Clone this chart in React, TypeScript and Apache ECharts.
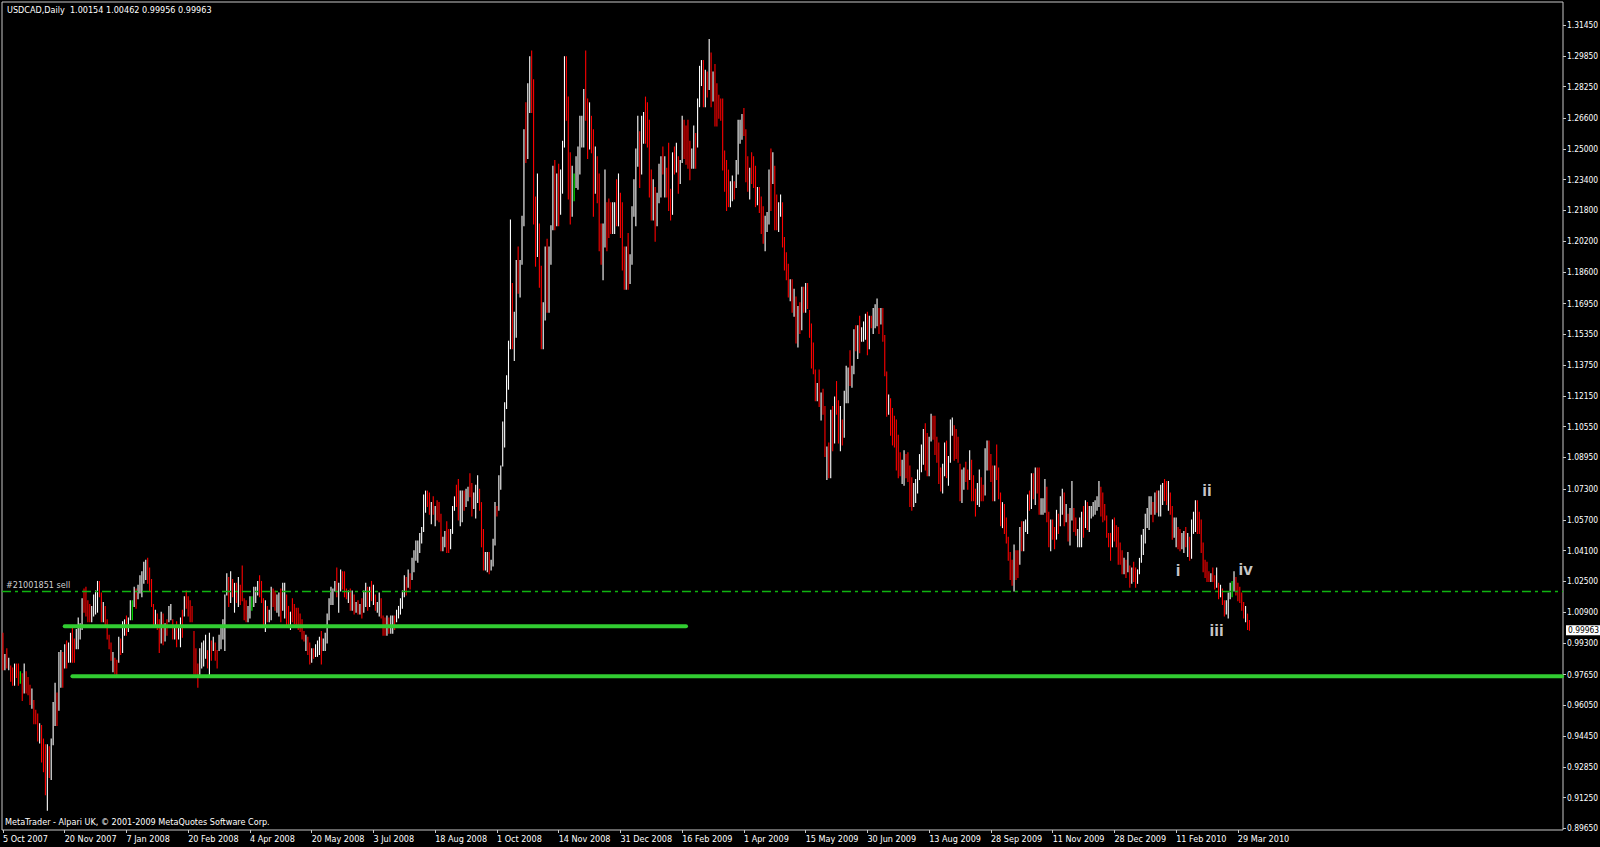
import React, { useEffect, useRef } from 'react';
import * as echarts from 'echarts';

// ---------- data ----------
const SYMBOL = 'USDCAD';
const PERIOD = 'Daily';
const COPYRIGHT = 'MetaTrader - Alpari UK, \u00a9 2001-2009 MetaQuotes Software Corp.';

// time-axis labels, one every 32 daily bars starting at bar 0
const DATE_LABELS = [
  '5 Oct 2007', '20 Nov 2007', '7 Jan 2008', '20 Feb 2008', '4 Apr 2008', '20 May 2008', '3 Jul 2008',
  '18 Aug 2008', '1 Oct 2008', '14 Nov 2008', '31 Dec 2008', '16 Feb 2009', '1 Apr 2009', '15 May 2009',
  '30 Jun 2009', '13 Aug 2009', '28 Sep 2009', '11 Nov 2009', '28 Dec 2009', '11 Feb 2010', '29 Mar 2010',
];
const BARS_PER_LABEL = 32;
const SLOT_COUNT = 809; // visible bar slots on the time axis (incl. empty right margin)

// price-axis tick labels
const Y_TICKS = [
  1.3145, 1.2985, 1.2825, 1.266, 1.25, 1.234, 1.218, 1.202, 1.186, 1.1695, 1.1535, 1.1375, 1.1215, 1.1055,
  1.0895, 1.073, 1.057, 1.041, 1.025, 1.009, 0.993, 0.9765, 0.9605, 0.9445, 0.9285, 0.9125, 0.8965,
];
const PRICE_MIN = 0.89567;
const PRICE_MAX = 1.32647;

// daily bars: [low, high, close] in price x 1000 ; open = previous close
const FIRST_OPEN = 996;
const BARS_OCT07 = [
  [979,998,983],[979,987,986],[980,990,981],[979,985,984],[973,981,975],[971,980,972],[971,982,980],[975,982,977],
  [971,982,974],[972,978,974],[963,977,966],[967,982,979],[967,978,969],[966,975,967],[961,971,963],[959,969,967],
  [951,963,953],[951,958,952],[942,956,944],[941,951,949],[931,950,933],[926,943,928],[914,940,916],[906,940,932],
  [923,939,925],[922,943,940],[940,962,958],[950,972,966],[950,967,954],[958,988,984],[970,989,987],[970,988,975],
  [980,992,990],[980,994,985],[983,993,991],[983,998,996],[983,1002,986],[983,995,985],[990,1000,998],[990,1006,1001],
  [995,1003,1002],[1000,1016,1014],[1009,1021,1011],[1007,1022,1009],[1004,1015,1006],[1004,1013,1005],[1004,1012,1010],[1007,1018,1016],
  [1008,1020,1018],[1009,1025,1022],[1017,1025,1019],[1004,1019,1006],[1004,1014,1012],[1002,1012,1003],[995,1005,996],[990,997,991],
  [984,993,985],[978,988,987],[977,985,978],[976,984,977],[983,996,994],[987,995,989],[988,1004,1001],[997,1005,1003],
];
const BARS_JAN08 = [
  [997,1007,999],[999,1006,1005],[1005,1015,1013],[1005,1015,1013],[1012,1022,1020],[1011,1021,1014],[1016,1023,1021],[1019,1028,1026],
  [1017,1030,1028],[1024,1035,1033],[1026,1036,1035],[1024,1037,1027],[1020,1032,1022],[1012,1026,1014],[1002,1013,1004],[1001,1010,1008],
  [1000,1008,1001],[988,1005,990],[993,1009,1006],[992,1008,994],[994,1003,1000],[997,1005,998],[1004,1012,1010],[1005,1013,1011],
  [995,1005,997],[995,1002,1000],[991,1004,993],[995,1001,999],[991,1006,1004],[996,1010,1000],[1007,1017,1015],[1011,1020,1013],
  [1007,1017,1009],[1004,1015,1006],[1004,1012,1005],[977,999,980],[977,990,978],[970,982,972],[976,990,988],[980,993,990],
  [981,994,992],[985,997,995],[980,989,982],[975,998,994],[984,994,986],[989,996,993],[984,993,987],[980,989,982],
  [989,997,995],[990,1001,999],[995,1005,1003],[989,1018,1016],[1018,1029,1027],[1012,1027,1015],[1014,1030,1026],[1017,1026,1019],
  [1009,1024,1021],[1014,1024,1016],[1012,1027,1024],[1013,1023,1020],[1015,1033,1017],[1005,1016,1007],[1004,1015,1005],[1004,1012,1010],
];
const BARS_APR08 = [
  [1006,1017,1015],[1010,1017,1015],[1012,1022,1020],[1014,1022,1021],[1018,1025,1024],[1017,1028,1019],[1014,1025,1016],[1002,1016,1004],
  [999,1015,1012],[1004,1012,1006],[1004,1010,1009],[1005,1022,1020],[1012,1021,1014],[1010,1020,1012],[1009,1018,1016],[1007,1019,1018],
  [1004,1021,1007],[1010,1024,1021],[1006,1024,1023],[1001,1018,1004],[1001,1012,1003],[1000,1009,1008],[1004,1016,1005],[1003,1013,1004],
  [1001,1011,1003],[1000,1011,1002],[999,1008,1000],[995,1005,997],[994,999,995],[989,997,996],[987,996,989],[982,993,984],
  [983,990,987],[985,990,986],[986,992,990],[986,994,993],[987,996,995],[982,999,984],[989,995,993],[989,998,996],
  [993,1008,1006],[1005,1016,1014],[1013,1022,1020],[1013,1021,1021],[1020,1025,1024],[1017,1032,1019],[1009,1024,1022],[1020,1031,1029],
  [1021,1030,1023],[1017,1030,1020],[1016,1021,1017],[1014,1020,1019],[1010,1021,1012],[1010,1020,1018],[1008,1018,1010],[1009,1014,1013],
  [1008,1015,1009],[1008,1013,1012],[1006,1016,1008],[1009,1020,1018],[1012,1024,1022],[1010,1022,1013],[1012,1022,1020],[1015,1025,1017],
];
const BARS_JUL08 = [
  [1013,1023,1021],[1010,1018,1012],[1009,1014,1013],[1007,1019,1017],[1006,1016,1008],[997,1007,999],[997,1006,998],[997,1007,1005],
  [998,1006,999],[998,1007,1004],[998,1007,1006],[1000,1007,1002],[1004,1010,1009],[1006,1012,1011],[1008,1016,1015],[1011,1020,1018],
  [1017,1028,1026],[1018,1027,1021],[1022,1031,1029],[1021,1029,1024],[1026,1037,1034],[1030,1041,1039],[1036,1046,1044],[1035,1046,1045],
  [1040,1050,1048],[1045,1053,1051],[1051,1070,1068],[1061,1072,1070],[1064,1072,1066],[1060,1071,1062],[1055,1066,1064],[1060,1069,1061],
  [1054,1064,1063],[1057,1067,1059],[1056,1066,1057],[1041,1060,1043],[1041,1048,1046],[1043,1051,1049],[1040,1056,1042],[1040,1052,1041],
  [1042,1052,1050],[1050,1064,1062],[1062,1069,1067],[1064,1075,1065],[1057,1078,1060],[1054,1072,1070],[1056,1072,1071],[1062,1072,1065],
  [1064,1073,1072],[1067,1074,1073],[1069,1081,1071],[1059,1076,1062],[1063,1071,1069],[1058,1075,1073],[1066,1080,1078],[1062,1073,1064],
  [1043,1066,1046],[1031,1052,1034],[1031,1040,1038],[1030,1040,1039],[1029,1040,1031],[1031,1036,1035],[1033,1047,1045],[1044,1066,1063],
];
const BARS_OCT08 = [
  [1059,1064,1060],[1062,1080,1078],[1073,1085,1083],[1085,1108,1105],[1095,1118,1115],[1115,1132,1128],[1125,1150,1145],[1146,1213,1200],
  [1146,1180,1150],[1140,1165,1160],[1152,1192,1185],[1175,1199,1180],[1173,1192,1188],[1190,1215,1212],[1210,1260,1255],[1243,1274,1248],
  [1245,1284,1280],[1269,1298,1290],[1269,1301,1272],[1211,1286,1220],[1189,1225,1195],[1194,1237,1230],[1178,1211,1182],[1146,1189,1150],
  [1146,1170,1165],[1161,1199,1195],[1165,1203,1170],[1165,1199,1190],[1190,1210,1205],[1208,1241,1236],[1208,1244,1212],[1210,1237,1232],
  [1210,1242,1215],[1216,1239,1235],[1227,1254,1250],[1251,1298,1292],[1265,1298,1270],[1224,1277,1230],[1211,1248,1215],[1215,1241,1235],
  [1223,1237,1235],[1230,1246,1242],[1229,1251,1247],[1237,1267,1262],[1251,1267,1265],[1251,1281,1278],[1265,1301,1270],[1245,1276,1250],
  [1250,1274,1270],[1248,1267,1252],[1215,1260,1220],[1227,1251,1245],[1222,1246,1226],[1197,1237,1200],[1190,1211,1193],[1182,1211,1205],
  [1199,1239,1232],[1197,1222,1215],[1204,1224,1208],[1206,1222,1207],[1206,1222,1218],[1206,1222,1220],[1210,1234,1214],[1210,1237,1233],
];
const BARS_DEC08 = [
  [1204,1227,1208],[1187,1222,1192],[1177,1199,1182],[1177,1199,1195],[1177,1206,1183],[1180,1195,1190],[1190,1220,1215],[1215,1234,1230],
  [1210,1250,1245],[1241,1267,1262],[1230,1259,1235],[1237,1267,1262],[1253,1269,1266],[1253,1277,1258],[1251,1274,1254],[1225,1265,1230],
  [1213,1239,1217],[1213,1234,1230],[1202,1230,1208],[1210,1227,1222],[1222,1242,1238],[1225,1246,1242],[1237,1251,1240],[1225,1246,1243],
  [1225,1240,1230],[1218,1253,1225],[1213,1229,1216],[1216,1248,1243],[1237,1251,1240],[1238,1253,1250],[1227,1246,1232],[1232,1244,1240],
  [1243,1267,1263],[1245,1265,1250],[1242,1262,1245],[1240,1265,1242],[1234,1254,1238],[1240,1250,1246],[1240,1262,1258],[1240,1258,1245],
  [1251,1276,1272],[1272,1293,1290],[1283,1296,1294],[1272,1296,1278],[1272,1291,1288],[1277,1290,1282],[1281,1307,1300],[1272,1300,1278],
  [1275,1290,1285],[1262,1294,1275],[1262,1284,1270],[1266,1278,1268],[1265,1276,1266],[1239,1276,1243],[1228,1249,1232],[1218,1244,1222],
  [1220,1239,1221],[1220,1233,1230],[1223,1236,1233],[1224,1233,1226],[1230,1244,1241],[1237,1265,1260],[1253,1265,1263],[1255,1268,1266],
];
const BARS_APR09 = [
  [1257,1271,1259],[1233,1260,1236],[1228,1246,1230],[1224,1240,1236],[1232,1248,1234],[1230,1246,1232],[1220,1241,1223],[1221,1230,1228],
  [1217,1230,1219],[1206,1225,1209],[1201,1220,1204],[1197,1215,1212],[1207,1217,1215],[1211,1239,1234],[1218,1250,1224],[1232,1248,1244],
  [1208,1241,1212],[1208,1226,1210],[1207,1222,1220],[1215,1226,1223],[1199,1222,1202],[1187,1204,1190],[1182,1196,1185],[1173,1190,1176],
  [1171,1182,1180],[1165,1182,1168],[1163,1177,1174],[1149,1173,1152],[1147,1168,1160],[1154,1170,1157],[1156,1178,1172],[1165,1178,1167],
  [1165,1180,1178],[1167,1180,1170],[1152,1166,1155],[1136,1159,1139],[1133,1149,1135],[1119,1135,1122],[1119,1128,1126],[1116,1135,1118],
  [1109,1123,1120],[1112,1125,1114],[1090,1116,1093],[1078,1095,1094],[1079,1097,1082],[1079,1114,1110],[1093,1116,1097],[1097,1121,1118],
  [1112,1129,1115],[1097,1119,1100],[1093,1116,1113],[1096,1109,1099],[1100,1124,1121],[1118,1137,1134],[1118,1136,1135],[1127,1145,1130],
  [1126,1137,1136],[1133,1156,1152],[1145,1158,1148],[1141,1158,1155],[1144,1163,1147],[1150,1157,1155],[1150,1160,1158],[1151,1164,1162],
];
const BARS_JUN09 = [
  [1143,1165,1148],[1146,1163,1160],[1157,1163,1158],[1154,1167,1165],[1157,1169,1167],[1158,1172,1170],[1154,1167,1157],[1159,1167,1164],
  [1150,1167,1152],[1132,1153,1135],[1111,1134,1114],[1112,1122,1120],[1101,1120,1104],[1096,1115,1099],[1095,1111,1097],[1083,1109,1086],
  [1079,1101,1082],[1080,1092,1081],[1076,1088,1086],[1075,1093,1089],[1079,1091,1081],[1077,1092,1079],[1064,1085,1067],[1062,1079,1064],
  [1064,1076,1074],[1066,1078,1076],[1071,1083,1081],[1078,1091,1089],[1082,1096,1094],[1086,1104,1102],[1083,1107,1088],[1080,1102,1084],
  [1080,1100,1097],[1098,1112,1108],[1099,1111,1102],[1091,1111,1094],[1087,1100,1090],[1076,1097,1080],[1072,1084,1074],[1071,1086,1083],
  [1080,1097,1094],[1079,1098,1083],[1075,1090,1088],[1087,1109,1106],[1101,1110,1108],[1088,1106,1091],[1089,1104,1090],[1087,1100,1088],
  [1067,1086,1070],[1066,1083,1080],[1073,1084,1082],[1077,1087,1079],[1073,1083,1075],[1078,1093,1090],[1067,1088,1070],[1067,1080,1068],
  [1059,1073,1062],[1065,1076,1073],[1064,1083,1080],[1067,1079,1070],[1067,1075,1068],[1070,1094,1090],[1083,1098,1095],[1083,1098,1086],
];
const BARS_SEP09 = [
  [1077,1091,1080],[1067,1085,1070],[1067,1085,1082],[1078,1096,1080],[1068,1084,1071],[1054,1071,1057],[1053,1066,1063],[1050,1065,1052],
  [1045,1058,1047],[1036,1048,1038],[1026,1040,1029],[1023,1036,1025],[1020,1044,1038],[1026,1041,1029],[1027,1041,1028],[1034,1053,1050],
  [1041,1056,1044],[1041,1056,1054],[1051,1057,1055],[1050,1070,1068],[1062,1072,1064],[1063,1081,1078],[1068,1081,1071],[1065,1084,1082],
  [1071,1084,1073],[1060,1084,1063],[1060,1068,1066],[1060,1068,1067],[1061,1078,1076],[1056,1074,1058],[1043,1061,1046],[1041,1057,1054],
  [1047,1057,1049],[1042,1053,1044],[1047,1062,1058],[1050,1060,1052],[1054,1069,1066],[1060,1073,1070],[1054,1071,1056],[1056,1065,1063],
  [1046,1060,1049],[1044,1063,1060],[1057,1077,1074],[1051,1063,1054],[1049,1058,1050],[1043,1052,1051],[1043,1058,1056],[1043,1061,1059],
  [1048,1064,1051],[1053,1067,1064],[1052,1066,1055],[1051,1064,1062],[1058,1064,1063],[1059,1066,1065],[1060,1067,1066],[1062,1069,1068],
  [1064,1077,1075],[1059,1074,1062],[1056,1071,1059],[1057,1065,1058],[1048,1059,1050],[1043,1050,1049],[1036,1050,1040],[1043,1057,1054],
];
const BARS_DEC09 = [
  [1046,1058,1048],[1043,1054,1045],[1034,1053,1036],[1034,1045,1035],[1029,1041,1031],[1029,1037,1036],[1027,1036,1030],[1030,1040,1037],
  [1022,1033,1025],[1024,1032,1030],[1025,1035,1027],[1022,1032,1024],[1024,1031,1030],[1029,1037,1035],[1035,1049,1047],[1039,1052,1050],
  [1045,1060,1057],[1053,1063,1061],[1052,1069,1066],[1060,1069,1068],[1056,1066,1059],[1060,1071,1069],[1061,1072,1063],[1059,1072,1070],
  [1059,1075,1073],[1065,1076,1075],[1067,1078,1069],[1065,1077,1067],[1062,1077,1074],[1060,1071,1062],[1047,1064,1050],[1048,1058,1055],
  [1043,1058,1056],[1042,1053,1045],[1041,1052,1043],[1042,1050,1048],[1040,1051,1049],[1043,1053,1045],[1038,1050,1048],[1036,1048,1039],
  [1037,1057,1054],[1050,1061,1059],[1051,1067,1064],[1050,1067,1053],[1050,1061,1052],[1040,1057,1042],[1030,1045,1032],[1027,1036,1029],
  [1025,1035,1027],[1025,1030,1026],[1025,1029,1028],[1025,1032,1026],[1021,1028,1023],[1022,1032,1029],[1016,1024,1018],[1017,1023,1021],
  [1013,1021,1015],[1007,1015,1009],[1008,1015,1013],[1006,1019,1017],[1016,1024,1022],[1017,1025,1022],[1020,1030,1028],[1018,1027,1020],
  [1015,1024,1017],[1014,1022,1016],[1010,1019,1012],[1006,1014,1008],[1004,1012,1010],[1000,1008,1002],
];
// current (last) bar: open, high, low, close
const LAST_BAR = [1.00154, 1.00462, 0.99956, 0.99963];

// objects drawn on the chart
const ORDER_LINE = { label: '#21001851 sell', price: 1.0193 };
const SUPPORT_UPPER = [[32, 1.0017], [354, 1.0017]];
const SUPPORT_LOWER = [[36, 0.9756], [808, 0.9756]];
const WAVE_LABELS = [
  { name: 'i', bar: 609, price: 1.0309 },
  { name: 'ii', bar: 624, price: 1.0722 },
  { name: 'iii', bar: 629, price: 0.9997 },
  { name: 'iv', bar: 644, price: 1.0313 },
];

// ---------- styles ----------
const FONT = '"DejaVu Sans Condensed", "DejaVu Sans", sans-serif';
const FG = '#ffffff';
const FRAME = '#c8c8c8';
const UP = '#ffffff';
const DOWN = '#ff0000';
const DOJI = '#00ff00';
const ORDER_COLOR = '#10b410';

function buildBars() {
  const raw = [
    ...BARS_OCT07, ...BARS_JAN08, ...BARS_APR08, ...BARS_JUL08, ...BARS_OCT08,
    ...BARS_DEC08, ...BARS_APR09, ...BARS_JUN09, ...BARS_SEP09, ...BARS_DEC09,
  ];
  const out: number[][] = [];
  let prev = FIRST_OPEN / 1000;
  raw.forEach(([l, h, c], i) => {
    const close = c / 1000;
    out.push([i, prev, close, l / 1000, h / 1000]);
    prev = close;
  });
  out.push([raw.length, LAST_BAR[0], LAST_BAR[3], LAST_BAR[2], LAST_BAR[1]]);
  return out;
}

function isLabelSlot(idx: number) {
  return idx % BARS_PER_LABEL === 0 && idx / BARS_PER_LABEL < DATE_LABELS.length;
}

export default function App() {
  const ref = useRef<HTMLDivElement>(null);

  useEffect(() => {
    const el = ref.current;
    if (!el) return;
    const chart = echarts.init(el, null, { renderer: 'svg' });

    const bars = buildBars();
    const cats: string[] = [];
    for (let i = 0; i < SLOT_COUNT; i++) {
      cats.push(isLabelSlot(i) ? DATE_LABELS[i / BARS_PER_LABEL] : '');
    }
    const lastClose = LAST_BAR[3];
    const titleText = `${SYMBOL},${PERIOD}\u00a0\u00a0${LAST_BAR.map((v) => v.toFixed(5)).join(' ')}`;

    const baseGraphic = [
      {
        type: 'text', x: 7, y: 10, silent: true,
        style: { text: titleText, fill: FG, fontSize: 9, fontFamily: FONT, verticalAlign: 'middle', align: 'left' },
      },
      {
        type: 'text', x: 5, y: 822, silent: true,
        style: { text: COPYRIGHT, fill: FG, fontSize: 9, fontFamily: FONT, verticalAlign: 'middle', align: 'left' },
      },
    ];

    const option: any = {
      animation: false,
      backgroundColor: '#000000',
      grid: {
        left: 2, right: 37, top: 2, bottom: 17,
        show: true, borderColor: FRAME, borderWidth: 1, backgroundColor: '#000000',
        containLabel: false, outerBoundsMode: 'none',
      },
      xAxis: {
        type: 'category',
        data: cats,
        boundaryGap: true,
        axisLine: { show: false },
        splitLine: { show: false },
        axisTick: { show: true, alignWithLabel: true, interval: isLabelSlot, length: 3, lineStyle: { color: FRAME } },
        axisLabel: {
          interval: isLabelSlot, align: 'left', color: FG, fontSize: 9, fontFamily: FONT, margin: 4,
        },
      },
      yAxis: {
        type: 'value',
        position: 'right',
        min: PRICE_MIN,
        max: PRICE_MAX,
        axisLine: { show: false },
        splitLine: { show: false },
        axisTick: { show: true, customValues: Y_TICKS, length: 3, lineStyle: { color: FRAME } },
        axisLabel: {
          customValues: Y_TICKS,
          color: FG, fontSize: 8.4, fontFamily: FONT, margin: 4,
          formatter: (v: number) => v.toFixed(5),
        },
      },
      series: [
        {
          name: 'bars',
          type: 'custom',
          data: bars,
          encode: { x: 0, y: [3, 4] },
          clip: true,
          silent: true,
          renderItem: (params: any, api: any) => {
            const idx = api.value(0);
            const o = api.value(1);
            const c = api.value(2);
            const top = api.coord([idx, api.value(4)]);
            const bot = api.coord([idx, api.value(3)]);
            const color = c > o ? UP : c < o ? DOWN : DOJI;
            return {
              type: 'line',
              shape: { x1: top[0], y1: top[1] - 0.5, x2: bot[0], y2: bot[1] + 0.5 },
              style: { stroke: color, lineWidth: 1.1 },
            };
          },
        },
        {
          name: 'support upper',
          type: 'line',
          data: SUPPORT_UPPER,
          symbol: 'none',
          silent: true,
          clip: false,
          lineStyle: { color: '#32cd32', width: 4, cap: 'round' },
          markLine: {
            silent: true,
            symbol: ['none', 'none'],
            animation: false,
            lineStyle: { color: ORDER_COLOR, width: 1.3, type: [9, 4, 3, 4], opacity: 1 },
            label: {
              show: true, position: 'insideStartTop', formatter: ORDER_LINE.label,
              color: '#d0d0d0', fontSize: 9, fontFamily: FONT, distance: [4, 2],
            },
            data: [{ yAxis: ORDER_LINE.price, lineStyle: { color: ORDER_COLOR } }],
          },
        },
        {
          name: 'support lower',
          type: 'line',
          data: SUPPORT_LOWER,
          symbol: 'none',
          silent: true,
          clip: false,
          lineStyle: { color: '#32cd32', width: 4, cap: 'round' },
        },
        {
          name: 'waves',
          type: 'scatter',
          data: WAVE_LABELS.map((w) => ({ name: w.name, value: [w.bar, w.price] })),
          symbolSize: 1,
          silent: true,
          itemStyle: { color: 'rgba(0,0,0,0)' },
          label: {
            show: true, position: 'inside', formatter: '{b}',
            color: '#ffffff', fontSize: 17, fontWeight: 'bold', fontFamily: '"Liberation Sans", Arial, sans-serif',
          },
        },
      ],
      graphic: baseGraphic,
    };

    chart.setOption(option);

    // current price box on the price axis, positioned through the axis scale
    const priceY = chart.convertToPixel({ yAxisIndex: 0 }, lastClose) as number;
    chart.setOption({
      graphic: [
        ...baseGraphic,
        {
          type: 'text', x: 1566, y: priceY, silent: true, z: 100,
          style: {
            text: lastClose.toFixed(5), fill: '#000000', backgroundColor: '#ffffff',
            fontSize: 8.4, fontFamily: FONT, verticalAlign: 'middle', align: 'left',
            padding: [1, 3, 1, 2],
          },
        },
      ],
    });

    return () => chart.dispose();
  }, []);

  return (
    <div
      ref={ref}
      style={{ position: 'absolute', left: 0, top: 0, width: 1600, height: 847, background: '#000' }}
    />
  );
}
